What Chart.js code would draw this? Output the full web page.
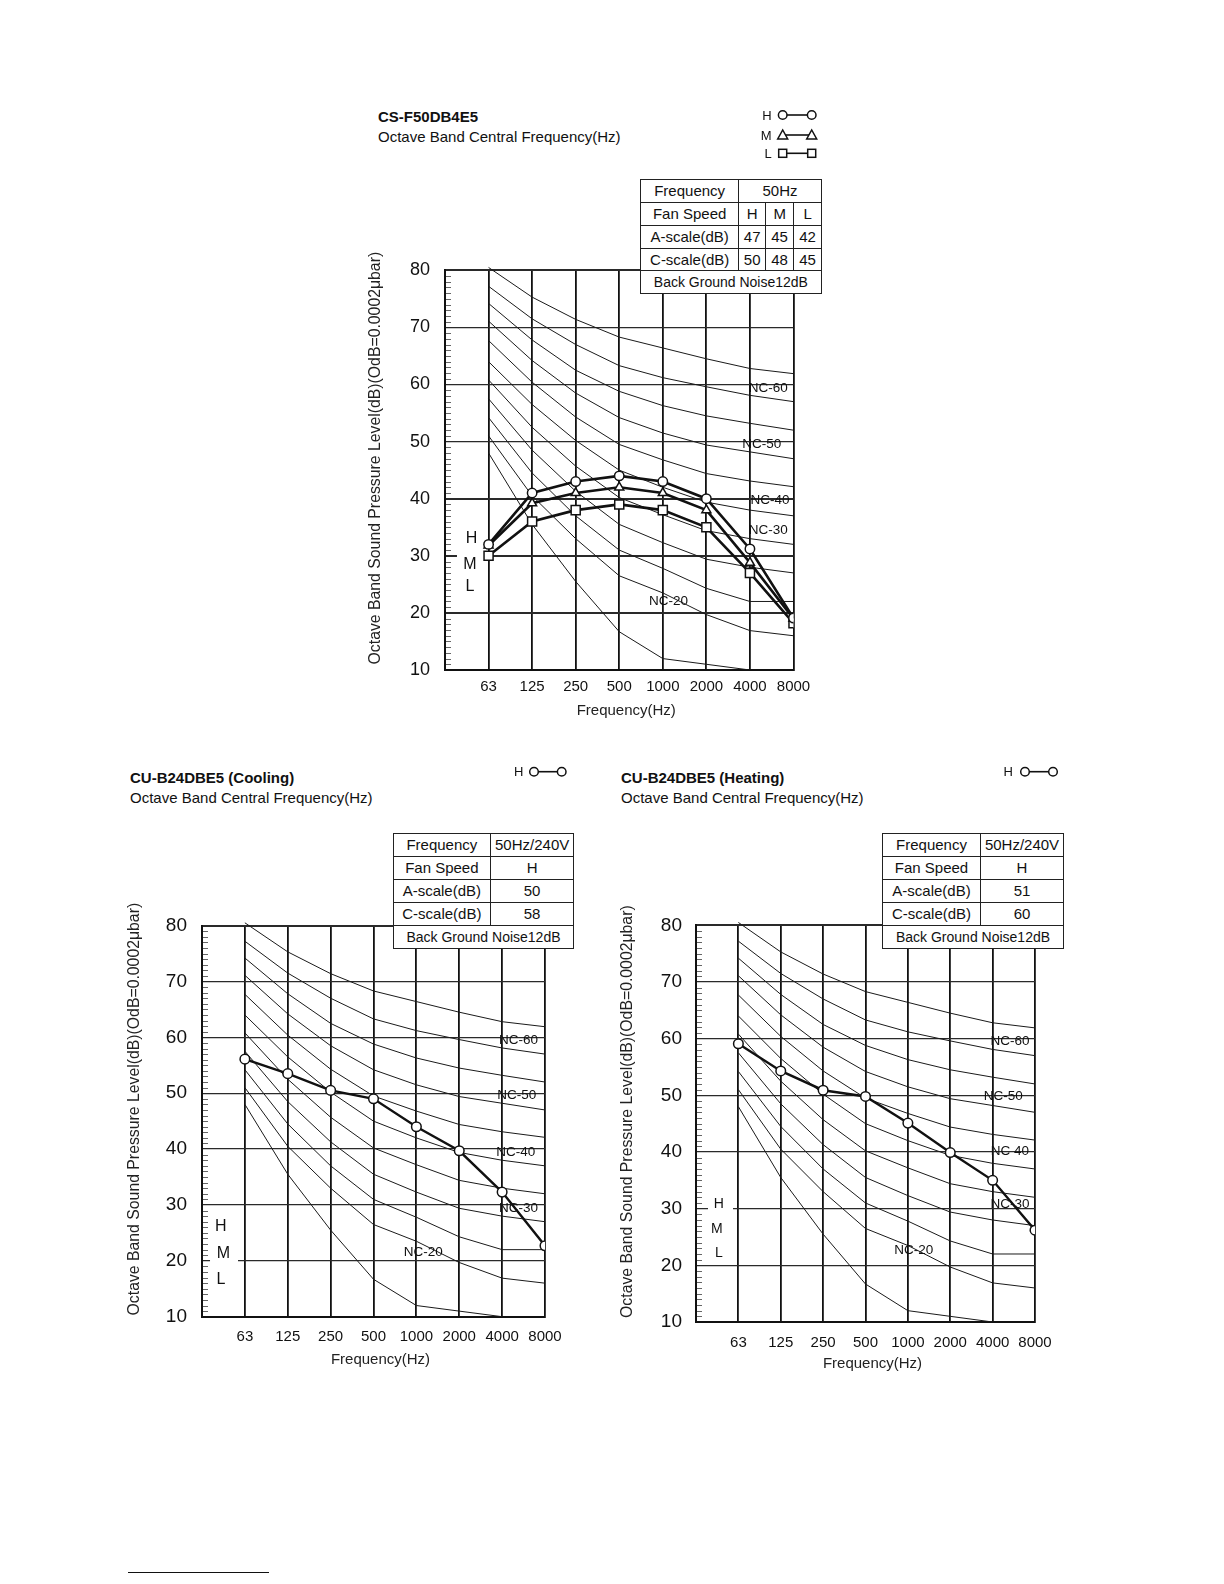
<!DOCTYPE html>
<html>
<head>
<meta charset="utf-8">
<title>Octave band sound pressure level</title>
<script src="https://cdn.jsdelivr.net/npm/chart.js@4.4.1/dist/chart.umd.min.js"></script>
<style>
  html, body { margin: 0; padding: 0; background: #fff; }
  #page { position: relative; width: 1224px; height: 1584px; overflow: hidden;
          font-family: 'Liberation Sans', Arial, Helvetica, sans-serif; color: #111; }
  .txt { position: absolute; white-space: nowrap; font-size: 15px; line-height: 18px; }
  .bold { font-weight: bold; }
  canvas { position: absolute; }
  .legend { position: absolute; }
  table.spec { position: absolute; border-collapse: collapse; table-layout: fixed; background: #fff; font-size: 15px; }
  table.spec td { border: 1.5px solid #222; padding: 0; text-align: center; line-height: 16px; white-space: nowrap; }
  #rule { position: absolute; left: 128px; top: 1572px; width: 141px; height: 0; border-top: 1px solid #111; }
</style>
</head>
<body>
<div id="page">
  <div class="txt bold" style="left:378px;top:107.7px">CS-F50DB4E5</div>
  <div class="txt" style="left:378px;top:127.7px">Octave Band Central Frequency(Hz)</div>
  <canvas id="indoor" width="470" height="481" style="left:360px;top:244px"></canvas>

  <div class="txt bold" style="left:130px;top:769.3px">CU-B24DBE5 (Cooling)</div>
  <div class="txt" style="left:130px;top:789.3px">Octave Band Central Frequency(Hz)</div>
  <canvas id="cooling" width="470" height="476" style="left:110px;top:899px"></canvas>

  <div class="txt bold" style="left:621px;top:769.3px">CU-B24DBE5 (Heating)</div>
  <div class="txt" style="left:621px;top:789.3px">Octave Band Central Frequency(Hz)</div>
  <canvas id="heating" width="470" height="481" style="left:600px;top:899px"></canvas>

  <div id="rule"></div>
</div>
<script>
// octave band centre frequencies
const freqLabels = ['63', '125', '250', '500', '1000', '2000', '4000', '8000'];

// NC reference curves printed on the sheet (dB per band)
const nc65 = [80.5, 75.3, 71.4, 68.3, 66.4, 64.5, 62.8, 61.9];
const nc60 = [77.2, 71.5, 67.0, 63.3, 61.2, 59.6, 58.1, 57.0];
const nc55 = [74.2, 67.8, 62.5, 58.8, 56.3, 54.5, 53.2, 52.0];
const nc50 = [71.1, 64.2, 58.5, 54.2, 51.5, 49.4, 48.2, 47.0];
const nc45 = [67.7, 60.4, 54.3, 49.5, 46.8, 44.4, 43.1, 42.1];
const nc40 = [64.0, 56.5, 50.2, 45.0, 42.0, 39.4, 38.0, 37.0];
const nc35 = [60.8, 52.5, 45.7, 40.2, 37.2, 34.4, 33.0, 32.0];
const nc30 = [57.5, 48.5, 41.3, 35.5, 32.3, 29.4, 28.0, 27.0];
const nc25 = [54.2, 44.5, 37.0, 31.0, 27.8, 24.3, 22.0, 22.0];
const nc20 = [51.0, 40.5, 33.0, 26.5, 23.5, 19.7, 16.9, 16.0];
const nc15 = [48.0, 35.5, 25.5, 16.7, 12.0, 11.0, 10.0, null];
const ncCurves = [nc65, nc60, nc55, nc50, nc45, nc40, nc35, nc30, nc25, nc20, nc15];

// measured levels, dB
const indoorH = [32.0, 41.0, 43.0, 44.0, 43.0, 40.0, 31.2, 19.1];
const indoorM = [31.8, 39.2, 41.0, 42.0, 41.0, 38.0, 28.8, 19.0];
const indoorL = [30.0, 36.0, 38.0, 39.0, 38.0, 35.0, 27.0, 18.2];
const coolingH = [56.1, 53.5, 50.5, 49.0, 44.0, 39.7, 32.3, 22.7];
const heatingH = [59.1, 54.3, 50.9, 49.8, 45.1, 39.9, 35.0, 26.2];

// spec tables
const indoorSupply = '50Hz';
const indoorSpeeds = ['H', 'M', 'L'];
const indoorA = [47, 45, 42];
const indoorC = [50, 48, 45];
const outdoorSupply = '50Hz/240V';
const coolingA = [50];
const coolingC = [58];
const heatingA = [51];
const heatingC = [60];
const bgNoise = 'Back Ground Noise12dB';

const yTitle = 'Octave Band Sound Pressure Level(dB)(OdB=0.0002\u03bcbar)';
const FONT = "'Liberation Sans', Arial, Helvetica, sans-serif";
Chart.defaults.font.family = FONT;
Chart.defaults.color = '#111';

const page = document.getElementById('page');
const decor = {};

const decorPlugin = {
  id: 'decor',
  beforeDatasetsDraw(chart) {
    const d = decor[chart.canvas.id];
    const { ctx, chartArea: a, scales: { x, y } } = chart;
    ctx.save();
    // 1 dB minor ticks along the left edge
    ctx.strokeStyle = '#666';
    ctx.lineWidth = 1;
    ctx.beginPath();
    for (let v = 11; v < 80; v++) {
      if (v % 10 === 0) continue;
      const py = Math.round(y.getPixelForValue(v)) + 0.5;
      ctx.moveTo(a.left + 1, py);
      ctx.lineTo(a.left + 6, py);
    }
    ctx.stroke();
    // gap in the grid line behind the H/M/L letters
    const gx0 = x.getPixelForValue(d.gap.from);
    const gx1 = x.getPixelForValue(d.gap.to);
    const gy = y.getPixelForValue(d.gap.at);
    ctx.fillStyle = '#fff';
    ctx.fillRect(gx0, gy - 2.5, gx1 - gx0, 5);
    ctx.restore();
  },
  afterDatasetsDraw(chart) {
    const d = decor[chart.canvas.id];
    const { ctx, chartArea: a, scales: { x, y } } = chart;
    ctx.save();
    ctx.fillStyle = '#111';
    ctx.textAlign = 'center';
    ctx.textBaseline = 'middle';
    ctx.font = d.speedFont + 'px ' + FONT;
    d.speedMarks.forEach(m => ctx.fillText(m.t, x.getPixelForValue(m.x), y.getPixelForValue(m.y)));
    ctx.font = '13.5px ' + FONT;
    d.ncMarks.forEach(m => ctx.fillText(m.t, x.getPixelForValue(m.x), y.getPixelForValue(m.y)));
    ctx.fillStyle = '#222';
    ctx.font = '15px ' + FONT;
    ctx.fillText('Frequency(Hz)', (a.left + a.right) / 2 + 7, a.bottom + d.xTitleDy);
    ctx.font = '15.8px ' + FONT;
    ctx.translate(a.left - d.yTitleDx, (a.top + a.bottom) / 2 - 12);
    ctx.rotate(-Math.PI / 2);
    ctx.fillText(yTitle, 0, 0);
    ctx.restore();
  }
};
Chart.register(decorPlugin);

function curvePoints(values) {
  return values.map((v, i) => ({ x: i + 1, y: v }));
}

function makeChart(id, spec) {
  decor[id] = spec;
  const datasets = spec.series.map(s => ({
    data: curvePoints(s.values),
    borderColor: '#111',
    borderWidth: spec.lineWidth,
    pointStyle: s.style,
    pointRadius: s.radius,
    pointBorderWidth: 1.5,
    pointBackgroundColor: '#fff',
    pointBorderColor: '#111',
    tension: 0
  }));
  ncCurves.forEach(vals => datasets.push({
    data: curvePoints(vals),
    borderColor: '#1a1a1a',
    borderWidth: 1,
    pointRadius: 0,
    tension: 0,
    clip: { left: 0, top: 6, right: 0, bottom: 0 }
  }));

  return new Chart(document.getElementById(id), {
    type: 'line',
    data: { datasets },
    options: {
      responsive: false,
      animation: false,
      events: [],
      layout: { padding: { top: spec.padTop, right: spec.padRight, left: 0, bottom: 0 } },
      plugins: { legend: { display: false }, tooltip: { enabled: false } },
      scales: {
        x: {
          type: 'linear',
          min: 0,
          max: 8,
          afterFit: s => { s.height = spec.xHeight; },
          ticks: {
            stepSize: 1,
            autoSkip: false,
            maxRotation: 0,
            padding: spec.xTickPad,
            font: { size: 15 },
            callback: v => (v >= 1 && v <= 8 ? freqLabels[v - 1] : '')
          },
          grid: { color: '#111', lineWidth: 1.8, drawTicks: false },
          border: { color: '#111', width: 2 }
        },
        y: {
          min: 10,
          max: 80,
          afterFit: s => { s.width = spec.yWidth; },
          ticks: { stepSize: 10, padding: spec.yTickPad, font: { size: spec.yTickSize } },
          grid: {
            color: '#2a2a2a',
            lineWidth: c => (c.tick && (c.tick.value <= spec.thickBelow || c.tick.value === 80) ? 2 : 1.2),
            drawTicks: false
          },
          border: { color: '#111', width: 2 }
        }
      }
    }
  });
}

function addTable(spec) {
  const t = document.createElement('table');
  t.className = 'spec';
  t.style.left = spec.left + 'px';
  t.style.top = spec.top + 'px';
  t.style.width = spec.cols.reduce((a, b) => a + b, 0) + 'px';
  const cg = document.createElement('colgroup');
  spec.cols.forEach(w => {
    const c = document.createElement('col');
    c.style.width = w + 'px';
    cg.appendChild(c);
  });
  t.appendChild(cg);
  spec.rows.forEach(r => {
    const tr = t.insertRow();
    tr.style.height = spec.rowH + 'px';
    r.forEach(cell => {
      const c = typeof cell === 'object' ? cell : { t: String(cell) };
      const td = tr.insertCell();
      td.textContent = c.t;
      if (c.span) td.colSpan = c.span;
      if (c.small) td.style.fontSize = '14px';
    });
  });
  page.appendChild(t);
}

function marker(style, cx, cy) {
  if (style === 'triangle') {
    return `<polygon points="${cx - 5},${cy + 4} ${cx + 5},${cy + 4} ${cx},${cy - 5}" fill="#fff" stroke="#111" stroke-width="1.5"/>`;
  }
  if (style === 'rect') {
    return `<rect x="${cx - 4}" y="${cy - 4}" width="8" height="8" fill="#fff" stroke="#111" stroke-width="1.5"/>`;
  }
  return `<circle cx="${cx}" cy="${cy}" r="4.3" fill="#fff" stroke="#111" stroke-width="1.5"/>`;
}

function addLegend(spec) {
  let s = `<svg xmlns="http://www.w3.org/2000/svg" width="72" height="60">`;
  spec.rows.forEach(r => {
    s += `<text x="${spec.textEnd}" y="${r.y}" text-anchor="end" dominant-baseline="central" font-size="13" fill="#111">${r.t}</text>`;
    s += `<line x1="${spec.x1}" y1="${r.y}" x2="${spec.x2}" y2="${r.y}" stroke="#111" stroke-width="1.6"/>`;
    s += marker(r.style, spec.x1, r.y) + marker(r.style, spec.x2, r.y);
  });
  s += '</svg>';
  const div = document.createElement('div');
  div.className = 'legend';
  div.style.left = spec.left + 'px';
  div.style.top = spec.top + 'px';
  div.innerHTML = s;
  page.appendChild(div);
}

makeChart('indoor', {
  series: [
    { values: indoorH, style: 'circle', radius: 4.7 },
    { values: indoorM, style: 'triangle', radius: 5.2 },
    { values: indoorL, style: 'rect', radius: 6.4 }
  ],
  lineWidth: 2.6,
  yWidth: 85, xHeight: 55, padTop: 26.3, padRight: 36.5,
  yTickSize: 18, yTickPad: 15, xTickPad: 8.3, thickBelow: 40,
  yTitleDx: 69, xTitleDy: 41,
  gap: { from: 0.275, to: 0.964, at: 30 },
  speedFont: 16,
  speedMarks: [{ t: 'H', x: 0.61, y: 33.1 }, { t: 'M', x: 0.57, y: 28.4 }, { t: 'L', x: 0.57, y: 24.6 }],
  ncMarks: [
    { t: 'NC-60', x: 7.42, y: 59.4 }, { t: 'NC-50', x: 7.27, y: 49.46 },
    { t: 'NC-40', x: 7.46, y: 39.7 }, { t: 'NC-30', x: 7.42, y: 34.4 },
    { t: 'NC-20', x: 5.13, y: 22.0 }
  ]
});

makeChart('cooling', {
  series: [{ values: coolingH, style: 'circle', radius: 4.8 }],
  lineWidth: 2.4,
  yWidth: 92, xHeight: 58.3, padTop: 26.6, padRight: 35,
  yTickSize: 19, yTickPad: 15, xTickPad: 11.6, thickBelow: 0,
  yTitleDx: 67, xTitleDy: 43,
  gap: { from: 0.187, to: 0.84, at: 20 },
  speedFont: 16,
  speedMarks: [{ t: 'H', x: 0.44, y: 26.2 }, { t: 'M', x: 0.5, y: 21.35 }, { t: 'L', x: 0.44, y: 16.7 }],
  ncMarks: [
    { t: 'NC-60', x: 7.38, y: 59.5 }, { t: 'NC-50', x: 7.34, y: 49.56 },
    { t: 'NC-40', x: 7.32, y: 39.5 }, { t: 'NC-30', x: 7.38, y: 29.4 },
    { t: 'NC-20', x: 5.16, y: 21.45 }
  ]
});

makeChart('heating', {
  series: [{ values: heatingH, style: 'circle', radius: 4.8 }],
  lineWidth: 2.4,
  yWidth: 96, xHeight: 58, padTop: 26.3, padRight: 35,
  yTickSize: 19, yTickPad: 14, xTickPad: 11.7, thickBelow: 0,
  yTitleDx: 68, xTitleDy: 41.7,
  gap: { from: 0.283, to: 0.873, at: 30 },
  speedFont: 14,
  speedMarks: [{ t: 'H', x: 0.54, y: 30.85 }, { t: 'M', x: 0.49, y: 26.3 }, { t: 'L', x: 0.54, y: 22.15 }],
  ncMarks: [
    { t: 'NC-60', x: 7.41, y: 59.6 }, { t: 'NC-50', x: 7.25, y: 49.8 },
    { t: 'NC 40', x: 7.41, y: 40.1 }, { t: 'NC-30', x: 7.41, y: 30.7 },
    { t: 'NC-20', x: 5.14, y: 22.6 }
  ]
});

addTable({
  left: 640, top: 179.3, cols: [98.3, 26.7, 28.3, 27.5], rowH: 22.8,
  rows: [
    ['Frequency', { t: indoorSupply, span: 3 }],
    ['Fan Speed', ...indoorSpeeds],
    ['A-scale(dB)', ...indoorA],
    ['C-scale(dB)', ...indoorC],
    [{ t: bgNoise, span: 4, small: true }]
  ]
});
addTable({
  left: 392.7, top: 833.3, cols: [97.3, 83.3], rowH: 23,
  rows: [
    ['Frequency', outdoorSupply],
    ['Fan Speed', 'H'],
    ['A-scale(dB)', ...coolingA],
    ['C-scale(dB)', ...coolingC],
    [{ t: bgNoise, span: 2, small: true }]
  ]
});
addTable({
  left: 882, top: 833.3, cols: [98, 83], rowH: 23,
  rows: [
    ['Frequency', outdoorSupply],
    ['Fan Speed', 'H'],
    ['A-scale(dB)', ...heatingA],
    ['C-scale(dB)', ...heatingC],
    [{ t: bgNoise, span: 2, small: true }]
  ]
});

addLegend({
  left: 755, top: 105, textEnd: 16.7, x1: 27.7, x2: 56.7,
  rows: [{ t: 'H', style: 'circle', y: 10 }, { t: 'M', style: 'triangle', y: 30 }, { t: 'L', style: 'rect', y: 48.3 }]
});
addLegend({ left: 505, top: 760, textEnd: 18.3, x1: 29, x2: 56.7, rows: [{ t: 'H', style: 'circle', y: 11.7 }] });
addLegend({ left: 995, top: 760, textEnd: 18, x1: 30, x2: 58, rows: [{ t: 'H', style: 'circle', y: 11.7 }] });
</script>
</body>
</html>
